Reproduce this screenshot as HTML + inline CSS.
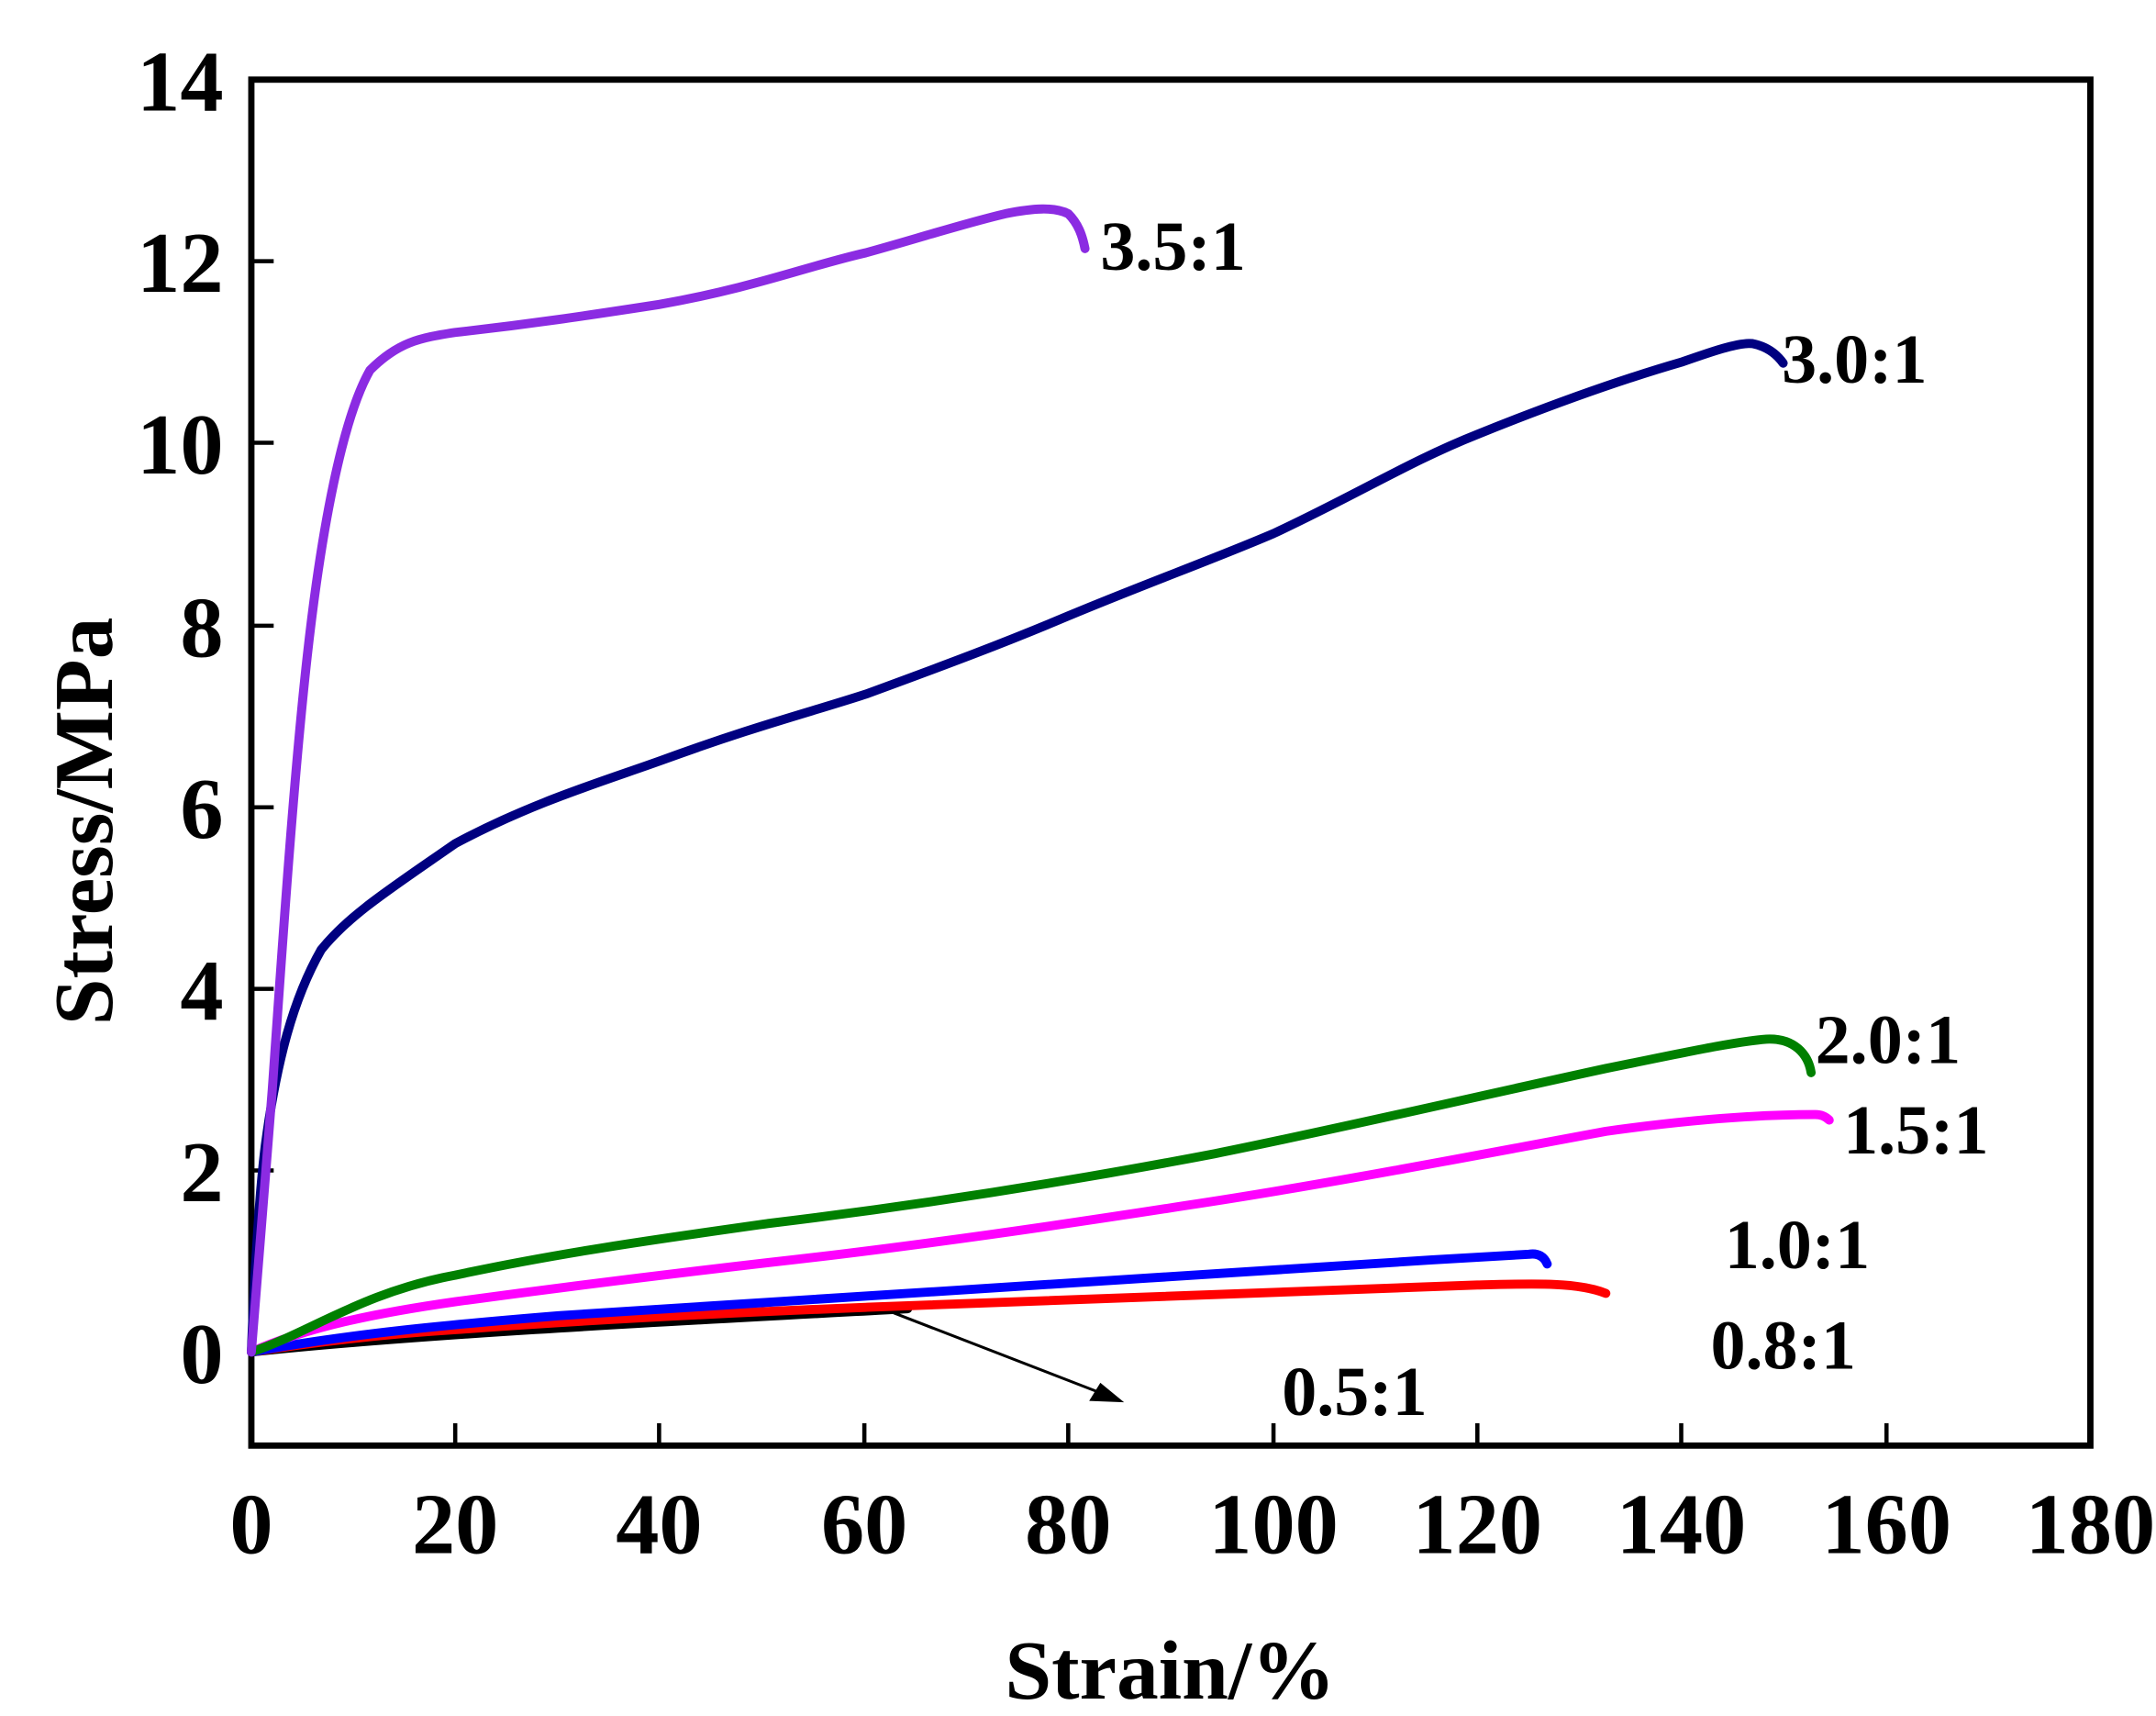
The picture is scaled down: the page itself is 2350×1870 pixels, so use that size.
<!DOCTYPE html>
<html><head><meta charset="utf-8"><style>html,body{margin:0;padding:0;background:#fff}svg{display:block}</style></head>
<body>
<svg width="2350" height="1870" viewBox="0 0 1544 1228.6" xmlns="http://www.w3.org/2000/svg" font-family="Liberation Serif, serif" font-weight="bold">
<rect x="180" y="57" width="1317" height="978" fill="none" stroke="#000" stroke-width="4.5"/>
<g stroke="#000" stroke-width="3">
<line x1="180" y1="968" x2="196" y2="968"/><line x1="180" y1="838" x2="196" y2="838"/><line x1="180" y1="708" x2="196" y2="708"/><line x1="180" y1="578" x2="196" y2="578"/><line x1="180" y1="448" x2="196" y2="448"/><line x1="180" y1="317" x2="196" y2="317"/><line x1="180" y1="187" x2="196" y2="187"/>
<line x1="326" y1="1035" x2="326" y2="1019"/><line x1="472" y1="1035" x2="472" y2="1019"/><line x1="619" y1="1035" x2="619" y2="1019"/><line x1="765" y1="1035" x2="765" y2="1019"/><line x1="912" y1="1035" x2="912" y2="1019"/><line x1="1058" y1="1035" x2="1058" y2="1019"/><line x1="1204" y1="1035" x2="1204" y2="1019"/><line x1="1351" y1="1035" x2="1351" y2="1019"/>
</g>
<g font-size="62" text-anchor="end">
<text x="160" y="990">0</text><text x="160" y="860">2</text><text x="160" y="730">4</text><text x="160" y="600">6</text><text x="160" y="470">8</text><text x="160" y="339">10</text><text x="160" y="209">12</text><text x="160" y="79">14</text>
</g>
<g font-size="62" text-anchor="middle">
<text x="180" y="1112">0</text><text x="326" y="1112">20</text><text x="472" y="1112">40</text><text x="619" y="1112">60</text><text x="765" y="1112">80</text><text x="912" y="1112">100</text><text x="1058" y="1112">120</text><text x="1204" y="1112">140</text><text x="1351" y="1112">160</text><text x="1497" y="1112">180</text>
</g>
<g font-size="60" text-anchor="middle">
<text x="838" y="1216">Strain/%</text>
<text transform="translate(80,588) rotate(-90)">Stress/MPa</text>
</g>
<g fill="none" stroke-width="6.5" stroke-linecap="round" stroke-linejoin="round">
<path stroke="#000" d="M180,968 C300,955 500,945 650,937"/>
<path stroke="#ff0000" d="M180,968 C230,960 280,955 326,952 C420,945 520,940 620,936 C760,930 900,925 1058,920 C1100,919 1130,918 1150,926"/>
<path stroke="#0000ff" d="M180,968 C250,955 326,948 400,942 C600,930 850,912 1095,898 C1102,897 1106,900 1108,905"/>
<path stroke="#ff00ff" d="M180,968 C220,950 270,940 326,932 C400,922 472,913 550,904 C650,893 760,877 850,863 C950,848 1058,827 1150,810 C1200,803 1250,798 1300,798 C1305,798 1308,800 1310,802"/>
<path stroke="#008000" d="M180,968 C220,955 260,925 326,913 C400,897 472,887 550,876 C650,864 760,847 870,826 C950,810 1058,785 1150,765 C1200,755 1240,746 1265,744 C1285,743 1295,755 1297,768"/>
<path stroke="#000080" d="M180,968 C182,920 185,860 190,820 C198,760 210,715 230,680 C250,655 280,636 326,604 C380,575 430,560 472,545 C540,520 580,510 620,497 C680,475 720,460 765,441 C820,418 870,400 912,382 C970,355 1010,330 1058,311 C1110,290 1160,272 1205,259 C1225,252 1245,245 1255,246 C1265,248 1272,253 1277,260"/>
<path stroke="#8b2be2" d="M180,968 C185,900 190,850 195,780 C202,680 210,560 220,470 C230,380 245,300 265,265 C285,245 300,242 326,238 C380,232 420,226 472,218 C540,206 580,190 620,181 C660,170 690,160 720,153 C740,149 755,148 765,153 C772,160 775,168 777,178"/>
</g>
<line x1="640" y1="940" x2="790" y2="998" stroke="#000" stroke-width="2"/>
<polygon points="805,1004 780,1003 788,990" fill="#000"/>
<g font-size="50">
<text x="788" y="193">3.5:1</text><text x="1276" y="274">3.0:1</text><text x="1300" y="761">2.0:1</text><text x="1320" y="826">1.5:1</text><text x="1235" y="908">1.0:1</text><text x="1225" y="980">0.8:1</text><text x="918" y="1013">0.5:1</text>
</g>
</svg>
</body></html>
